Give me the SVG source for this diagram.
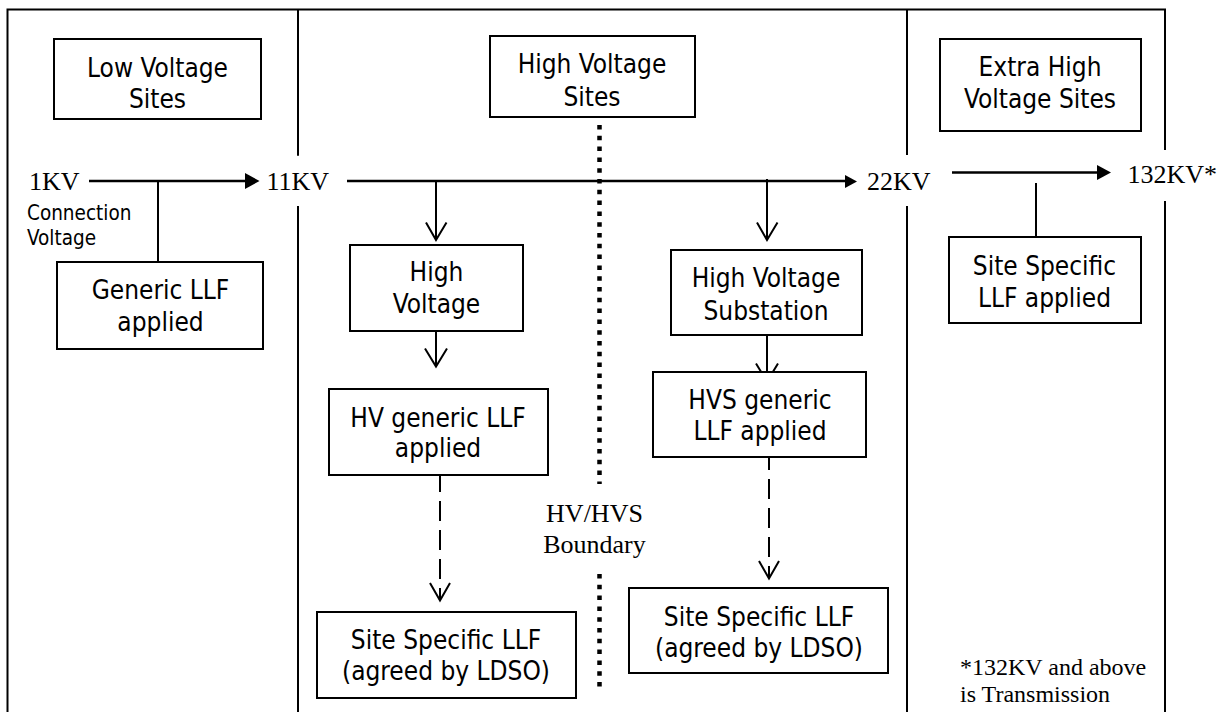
<svg xmlns="http://www.w3.org/2000/svg" width="1226" height="712" viewBox="0 0 1226 712">
<style>
.box{fill:#fff;stroke:#000;stroke-width:2}
.t{font-family:'DejaVu Sans Condensed','DejaVu Sans',sans-serif;font-stretch:semi-condensed;font-size:26px;fill:#000;text-anchor:middle}
.s{font-family:'Liberation Serif','Times New Roman',serif;font-size:26px;fill:#000}
.frame{stroke:#000;stroke-width:2;fill:none}
.main{stroke:#000;stroke-width:2.6;fill:none}
.thin{stroke:#000;stroke-width:2;fill:none}
.dash{stroke:#000;stroke-width:2;fill:none;stroke-dasharray:20 9}
.dot{stroke:#000;stroke-width:4.5;fill:none;stroke-dasharray:4.5 6.3}
</style>
<rect width="1226" height="712" fill="#fff"/>
<g id="frame">
<path class="frame" d="M7.5,712 V9.5 H1165 V150 M1165,201 V712 M298,9.5 V155.7 M298,206 V712 M907,9.5 V155 M907,206 V712"/>
</g>
<g id="connectors">
<path class="main" d="M89,181 H246"/>
<polygon points="245,173 259.5,181 245,189" fill="#000"/>
<path class="main" d="M347,181 H846"/>
<polygon points="845,175 857,181.5 845,188" fill="#000"/>
<path class="main" d="M952,172.5 H1098"/>
<polygon points="1097,165 1111,172.5 1097,180" fill="#000"/>
<path class="thin" d="M158,181 V275"/>
<path class="thin" d="M1036,183 V247"/>
<path class="thin" d="M436,181 V240 M426,222.5 L436,240 L446.5,222.5"/>
<path class="thin" d="M767,179 V240 M757,222.5 L767,240 L777.5,222.5"/>
<path class="thin" d="M436,315 V366.5 M425,348.5 L436,366.5 L447,348.5"/>
<path class="thin" d="M767,328 V381.5 M756,363.5 L767,381.5 L778,363.5"/>
<path class="dash" d="M440,472 V599"/>
<path class="thin" d="M430,583 L440,600.5 L450,583"/>
<path class="dash" d="M769,450 V577"/>
<path class="thin" d="M759,561 L769,578.5 L779,561"/>
<path class="dot" d="M599.5,125 V484"/>
<path class="dot" d="M599.5,574 V687"/>
</g>
<g id="low-voltage-sites"><rect class="box" x="54" y="39" width="207" height="80"/><text class="t" x="157.5" y="77">Low Voltage</text><text class="t" x="157.5" y="108">Sites</text></g>
<g id="high-voltage-sites"><rect class="box" x="490" y="36" width="205" height="81"/><text class="t" x="592" y="73">High Voltage</text><text class="t" x="592" y="106">Sites</text></g>
<g id="extra-high-voltage-sites"><rect class="box" x="940" y="39" width="201" height="92"/><text class="t" x="1040" y="76">Extra High</text><text class="t" x="1040" y="108">Voltage Sites</text></g>
<g id="generic-llf"><rect class="box" x="57" y="262" width="206" height="87"/><text class="t" x="160.5" y="299">Generic LLF</text><text class="t" x="160.5" y="331">applied</text></g>
<g id="high-voltage"><rect class="box" x="350" y="245" width="173" height="86"/><text class="t" x="436.5" y="281">High</text><text class="t" x="436.5" y="313">Voltage</text></g>
<g id="hv-substation"><rect class="box" x="671" y="250" width="191" height="85"/><text class="t" x="766" y="287">High Voltage</text><text class="t" x="766" y="320">Substation</text></g>
<g id="ehv-site-specific"><rect class="box" x="949" y="237" width="192" height="86"/><text class="t" x="1044.5" y="275">Site Specific</text><text class="t" x="1044.5" y="307">LLF applied</text></g>
<g id="hv-generic"><rect class="box" x="329" y="389" width="219" height="86"/><text class="t" x="438" y="427">HV generic LLF</text><text class="t" x="438" y="457">applied</text></g>
<g id="hvs-generic"><rect class="box" x="653" y="372" width="213" height="85"/><text class="t" x="760" y="409">HVS generic</text><text class="t" x="760" y="440">LLF applied</text></g>
<g id="hv-site-specific"><rect class="box" x="317" y="612" width="259" height="86"/><text class="t" x="446" y="649">Site Specific LLF</text><text class="t" x="446" y="680">(agreed by LDSO)</text></g>
<g id="hvs-site-specific"><rect class="box" x="629" y="588" width="259" height="85"/><text class="t" x="759" y="626">Site Specific LLF</text><text class="t" x="759" y="657">(agreed by LDSO)</text></g>
<g id="labels">
<text class="s" x="29" y="190">1KV</text>
<text class="s" x="266.5" y="190">11KV</text>
<text class="s" x="867" y="190">22KV</text>
<text class="s" x="1127.5" y="183">132KV*</text>
<text class="t" x="27" y="220" style="text-anchor:start;font-size:20.5px">Connection</text>
<text class="t" x="27" y="245" style="text-anchor:start;font-size:20.5px">Voltage</text>
<text class="s" x="594.5" y="522" text-anchor="middle">HV/HVS</text>
<text class="s" x="594.5" y="553" text-anchor="middle">Boundary</text>
<text class="s" x="960" y="675" style="font-size:24px">*132KV and above</text>
<text class="s" x="960" y="702" style="font-size:24px">is Transmission</text>
</g>
</svg>
